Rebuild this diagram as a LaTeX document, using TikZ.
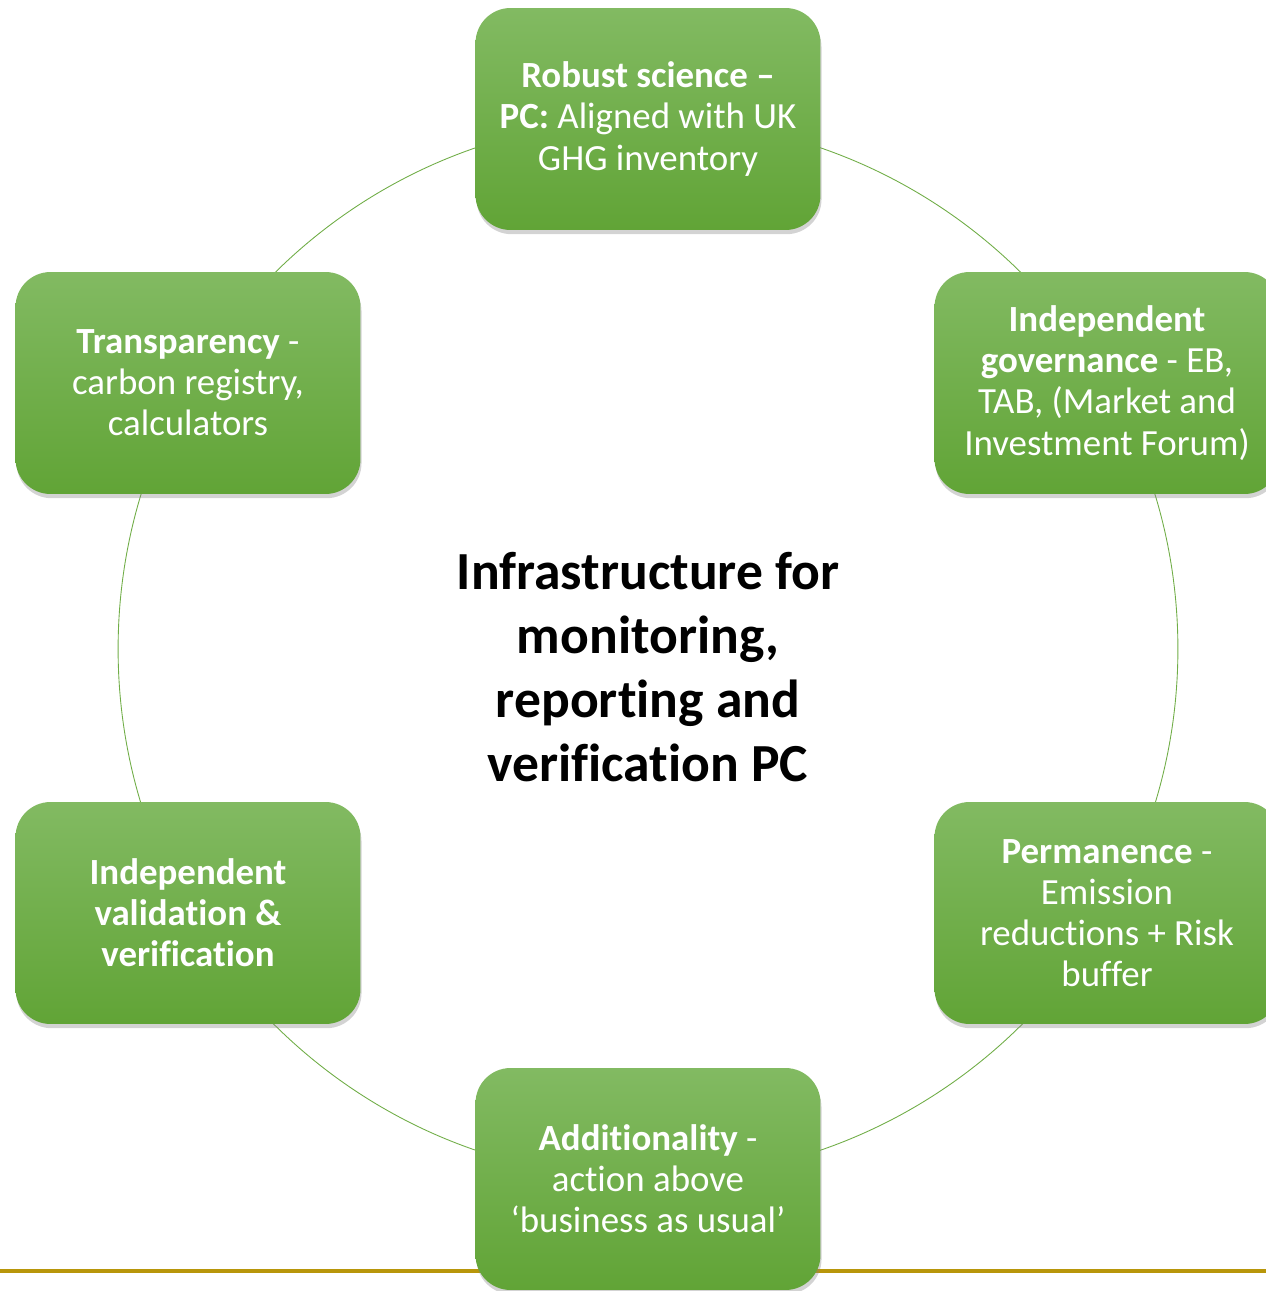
\documentclass[tikz,border=0pt]{standalone}
\usepackage{fontspec}
\setmainfont{Carlito}[Ligatures=NoCommon]
\usepackage{tikz}
\usetikzlibrary{positioning, shadows, calc}
\definecolor{ringgreen}{RGB}{112,173,71}
\definecolor{leaftop}{RGB}{130,186,98}
\definecolor{leafbottom}{RGB}{97,164,54}
\definecolor{goldline}{RGB}{184,150,10}

\begin{document}
\begin{tikzpicture}[x=0.02cm, y=-0.02cm,
		pillar/.style={rectangle, rounded corners=0.7cm, minimum width=6.9cm, minimum height=4.44cm, inner sep=0pt,
			top color=leaftop, bottom color=leafbottom, text=white, align=center,
			font=\fontsize{21}{23.4}\selectfont,
			drop shadow={opacity=0.35, shadow xshift=0.6pt, shadow yshift=-2.4pt}},
		hub/.style={align=center, font=\bfseries\fontsize{30.5}{36.5}\selectfont}]
		\useasboundingbox (0,0) rectangle (1266,1291);
		\coordinate (centre) at (648,649);
		
		% gold rule and ring behind the boxes
		\draw [goldline, line width=2.2pt] (0,1271) -- (1266,1271);
		\draw [ringgreen, line width=0.5pt] (centre) circle (10.6cm);
		
		\node[hub] (mrv) at (648,667) {Infrastructure for\\monitoring,\\reporting and\\verification PC};
		
		\node[pillar] (science) at (648,119) {\textbf{Robust science --}\\\textbf{PC:} Aligned with UK\\GHG inventory};
		\node[pillar] (governance) at (1107,383) {\textbf{Independent}\\\textbf{governance} - EB,\\TAB, (Market and\\Investment Forum)};
		\node[pillar] (permanence) at (1107,913) {\textbf{Permanence} -\\Emission\\reductions + Risk\\buffer};
		\node[pillar] (additionality) at (648,1179) {\textbf{Additionality} -\\action above\\`business as usual'};
		\node[pillar] (validation) at (188,913) {\textbf{Independent}\\\textbf{validation \&}\\\textbf{verification}};
		\node[pillar] (transparency) at (188,383) {\textbf{Transparency} -\\carbon registry,\\calculators};
		\end{tikzpicture}
\end{document}
